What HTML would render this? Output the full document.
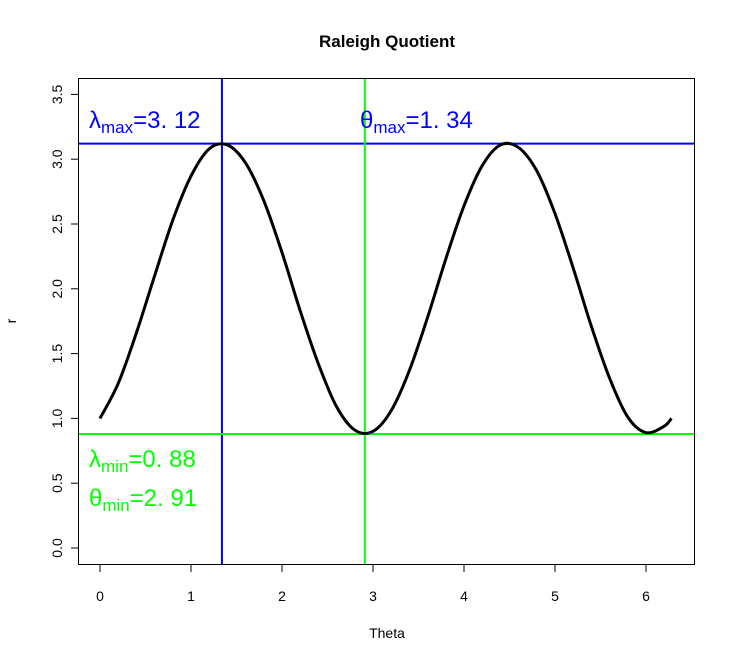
<!DOCTYPE html>
<html><head><meta charset="utf-8"><style>
body{margin:0;background:#fff}
svg{display:block;font-family:"Liberation Sans",Arial,sans-serif}
</style></head><body>
<svg id="c" width="736" height="663" viewBox="0 0 736 663">
<text x="387" y="47" text-anchor="middle" font-size="17" font-weight="bold">Raleigh Quotient</text>
<rect x="78.5" y="78.5" width="616" height="486" fill="none" stroke="#000"/>
<g id="xt"></g>
<g id="yt"></g>
<text x="387" y="638" text-anchor="middle" font-size="14">Theta</text>
<text transform="translate(16,321) rotate(-90)" text-anchor="middle" font-size="14">r</text>
<g id="lines"></g>
<path id="curve" fill="none" stroke="#000" stroke-width="3"/>
<text x="89" y="128" font-size="24" fill="#0000ff">λ<tspan font-size="17" dy="5">max</tspan><tspan dy="-5">=3. 12</tspan></text>
<text x="360" y="128" font-size="24" fill="#0000ff">θ<tspan font-size="17" dy="5">max</tspan><tspan dy="-5">=1. 34</tspan></text>
<text x="89" y="467" font-size="24" fill="#00ff00">λ<tspan font-size="17" dy="5">min</tspan><tspan dy="-5">=0. 88</tspan></text>
<text x="89" y="506" font-size="24" fill="#00ff00">θ<tspan font-size="17" dy="5">min</tspan><tspan dy="-5">=2. 91</tspan></text>
</svg>
<script>
const thetaValues=[0,0.2,0.4,0.6,0.8,1.0,1.2,1.4,1.6,1.8,2.0,2.2,2.4,2.6,2.8,3.0,3.2,3.4,3.6,3.8,4.0,4.2,4.4,4.6,4.8,5.0,5.2,5.4,5.6,5.8,6.0,6.2,6.28];
const rValues=[1.00,1.27,1.66,2.10,2.53,2.87,3.08,3.11,2.97,2.68,2.28,1.83,1.42,1.09,0.91,0.90,1.06,1.37,1.78,2.23,2.64,2.95,3.11,3.09,2.91,2.58,2.16,1.71,1.31,1.01,0.89,0.94,1.00];
const xTicks=[0,1,2,3,4,5,6];
const yTicks=[0,0.5,1,1.5,2,2.5,3,3.5];
const yTickLabels=["0.0","0.5","1.0","1.5","2.0","2.5","3.0","3.5"];
const lambdaMax=3.12, thetaMax=1.34, lambdaMin=0.88, thetaMin=2.91;
const X=v=>100+v*91, Y=v=>548-v*129.6;
const NS="http://www.w3.org/2000/svg";
function mk(t,a,p){const e=document.createElementNS(NS,t);for(const k in a)e.setAttribute(k,a[k]);p.appendChild(e);return e;}
const xt=document.getElementById('xt'),yt=document.getElementById('yt'),ln=document.getElementById('lines');
xTicks.forEach(v=>{
 const l=mk('line',{x1:X(v),x2:X(v),y1:565,y2:572,stroke:'#000'},xt);
 
 
 const t=mk('text',{x:X(v),y:601,'text-anchor':'middle','font-size':14},xt);t.textContent=v;
 
 
});
yTicks.forEach((v,i)=>{
 const l=mk('line',{x1:71,x2:78,y1:Y(v),y2:Y(v),stroke:'#000'},yt);
 
 
 const t=mk('text',{transform:`translate(62,${Y(v)}) rotate(-90)`,'text-anchor':'middle','font-size':14},yt);t.textContent=yTickLabels[i];
 
 
});
const h1=mk('line',{x1:79,x2:694,y1:Y(lambdaMax),y2:Y(lambdaMax),stroke:'#0000ff','stroke-width':2},ln);


const v1=mk('line',{x1:X(thetaMax),x2:X(thetaMax),y1:79,y2:564,stroke:'#0000ff','stroke-width':2},ln);


const h2=mk('line',{x1:79,x2:694,y1:Y(lambdaMin),y2:Y(lambdaMin),stroke:'#00ff00','stroke-width':2},ln);


const v2=mk('line',{x1:X(thetaMin),x2:X(thetaMin),y1:79,y2:564,stroke:'#00ff00','stroke-width':2},ln);


const P=thetaValues.map((t,i)=>[X(t),Y(rValues[i])]);
let d=`M${P[0][0]},${P[0][1]}`;
for(let i=0;i<P.length-1;i++){
 const p0=P[Math.max(0,i-1)],p1=P[i],p2=P[i+1],p3=P[Math.min(P.length-1,i+2)];
 d+=` C${p1[0]+(p2[0]-p0[0])/6},${p1[1]+(p2[1]-p0[1])/6} ${p2[0]-(p3[0]-p1[0])/6},${p2[1]-(p3[1]-p1[1])/6} ${p2[0]},${p2[1]}`;
}
document.getElementById('curve').setAttribute('d',d);
</script>
</body></html>
